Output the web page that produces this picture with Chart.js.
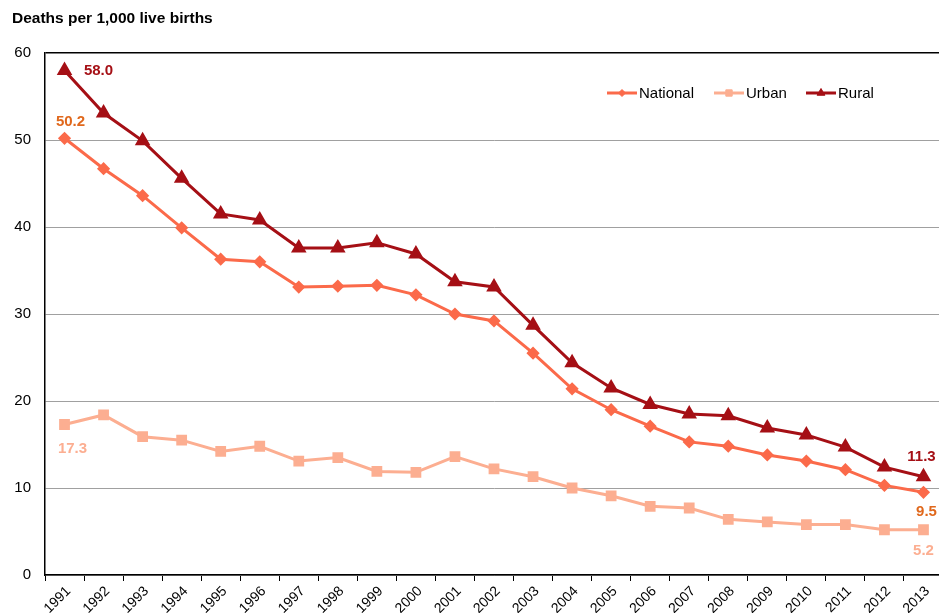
<!DOCTYPE html>
<html>
<head>
<meta charset="utf-8">
<script src="https://cdn.jsdelivr.net/npm/chart.js@4.4.1/dist/chart.umd.min.js"></script>
<style>
  html, body { margin: 0; padding: 0; overflow: hidden; background: #fff; }
  #chart { display: block; }
</style>
</head>
<body>
<canvas id="chart" width="952" height="613"></canvas>
<script>
// data
const years = ['1991','1992','1993','1994','1995','1996','1997','1998','1999','2000','2001','2002',
               '2003','2004','2005','2006','2007','2008','2009','2010','2011','2012','2013'];
const national = [50.2, 46.7, 43.6, 39.9, 36.3, 36.0, 33.1, 33.2, 33.3, 32.2, 30.0, 29.2,
                  25.5, 21.4, 19.0, 17.1, 15.3, 14.8, 13.8, 13.1, 12.1, 10.3, 9.5];
const urban = [17.3, 18.4, 15.9, 15.5, 14.2, 14.8, 13.1, 13.5, 11.9, 11.8, 13.6, 12.2,
               11.3, 10.0, 9.1, 7.9, 7.7, 6.4, 6.1, 5.8, 5.8, 5.2, 5.2];
const rural = [58.0, 53.1, 49.9, 45.6, 41.5, 40.8, 37.6, 37.6, 38.2, 36.9, 33.7, 33.1,
               28.7, 24.4, 21.5, 19.6, 18.5, 18.3, 16.9, 16.1, 14.7, 12.4, 11.3];
const yTicks = [0, 10, 20, 30, 40, 50, 60];

const FONT = 'Liberation Sans, Arial, sans-serif';
const cNational = '#fb6a4a';
const cUrban = '#fcae91';
const cRural = '#a50f15';

// labels next to first and last points: [dataset, index, dx, dy, colour]
const endLabels = [
  [2, 0, 34, 0, cRural],
  [0, 0, 6, -16, '#e0681c'],
  [1, 0, 8, 24, cUrban],
  [2, 22, -2, -20, cRural],
  [0, 22, 3, 20, '#e0681c'],
  [1, 22, 0, 21, cUrban]
];
const legendX = [607, 714, 806];
const legendR = [3.5, 4.5, 4.5];

const extras = {
  id: 'extras',
  afterDatasetsDraw(chart) {
    const ctx = chart.ctx;
    ctx.save();
    ctx.font = 'bold 15px ' + FONT;
    ctx.textAlign = 'center';
    ctx.textBaseline = 'middle';
    endLabels.forEach(([ds, i, dx, dy, col]) => {
      const pt = chart.getDatasetMeta(ds).data[i];
      const v = chart.data.datasets[ds].data[i];
      ctx.fillStyle = col;
      ctx.fillText(v.toFixed(1), pt.x + dx, pt.y + dy);
    });
    ctx.restore();
  },
  afterDraw(chart) {
    const ctx = chart.ctx;
    ctx.save();
    // axis title at top left
    ctx.font = 'bold 15.5px ' + FONT;
    ctx.fillStyle = '#000';
    ctx.textAlign = 'left';
    ctx.textBaseline = 'middle';
    ctx.fillText('Deaths per 1,000 live births', 12, 19);

    // legend
    const ly = 93;
    ctx.font = '15px ' + FONT;
    chart.data.datasets.forEach((ds, k) => {
      const x = legendX[k];
      ctx.strokeStyle = ds.borderColor;
      ctx.fillStyle = ds.borderColor;
      ctx.lineWidth = 3;
      ctx.beginPath();
      ctx.moveTo(x, ly);
      ctx.lineTo(x + 30, ly);
      ctx.stroke();
      ctx.lineWidth = 1;
      Chart.helpers.drawPoint(ctx, {
        pointStyle: ds.pointStyle,
        radius: legendR[k],
        borderWidth: 1
      }, x + 15, ly);
      ctx.fillStyle = '#000';
      ctx.fillText(ds.label, x + 32, ly + 1);
    });
    ctx.restore();
  }
};

const mk = (label, data, color, style, r) => ({
  label, data,
  borderColor: color,
  backgroundColor: color,
  pointBackgroundColor: color,
  pointBorderColor: color,
  pointStyle: style,
  pointRadius: r,
  pointHoverRadius: r,
  borderWidth: 3,
  tension: 0
});

new Chart(document.getElementById('chart'), {
  type: 'line',
  data: {
    labels: years,
    datasets: [
      mk('National', national, cNational, 'rectRot', 4.5),
      mk('Urban', urban, cUrban, 'rect', 5.5),
      mk('Rural', rural, cRural, 'triangle', 6)
    ]
  },
  options: {
    responsive: false,
    animation: false,
    events: [],
    layout: { padding: { top: 53, left: 0, right: 0, bottom: 0 } },
    plugins: {
      legend: { display: false },
      title: { display: false },
      tooltip: { enabled: false }
    },
    scales: {
      x: {
        offset: true,
        afterFit(s) { s.height = 38; },
        grid: {
          offset: true,
          drawOnChartArea: false,
          drawTicks: true,
          tickLength: 6,
          tickColor: '#000'
        },
        border: { color: '#000', width: 1.5 },
        ticks: {
          minRotation: 45,
          maxRotation: 45,
          autoSkip: false,
          padding: 2,
          labelOffset: 4,
          color: '#000',
          font: { family: FONT, size: 14 }
        }
      },
      y: {
        min: 0,
        max: 60,
        afterFit(s) { s.width = 45; },
        afterBuildTicks(s) { s.ticks = yTicks.map(v => ({ value: v })); },
        grid: {
          drawTicks: false,
          color: c => c.tick && c.tick.value === 60 ? '#000' : '#a0a0a0',
          lineWidth: c => c.tick && c.tick.value === 60 ? 1.5 : 1
        },
        border: { color: '#000', width: 1.5 },
        ticks: {
          padding: 14,
          color: '#000',
          font: { family: FONT, size: 15 }
        }
      }
    }
  },
  plugins: [extras]
});
</script>
</body>
</html>
